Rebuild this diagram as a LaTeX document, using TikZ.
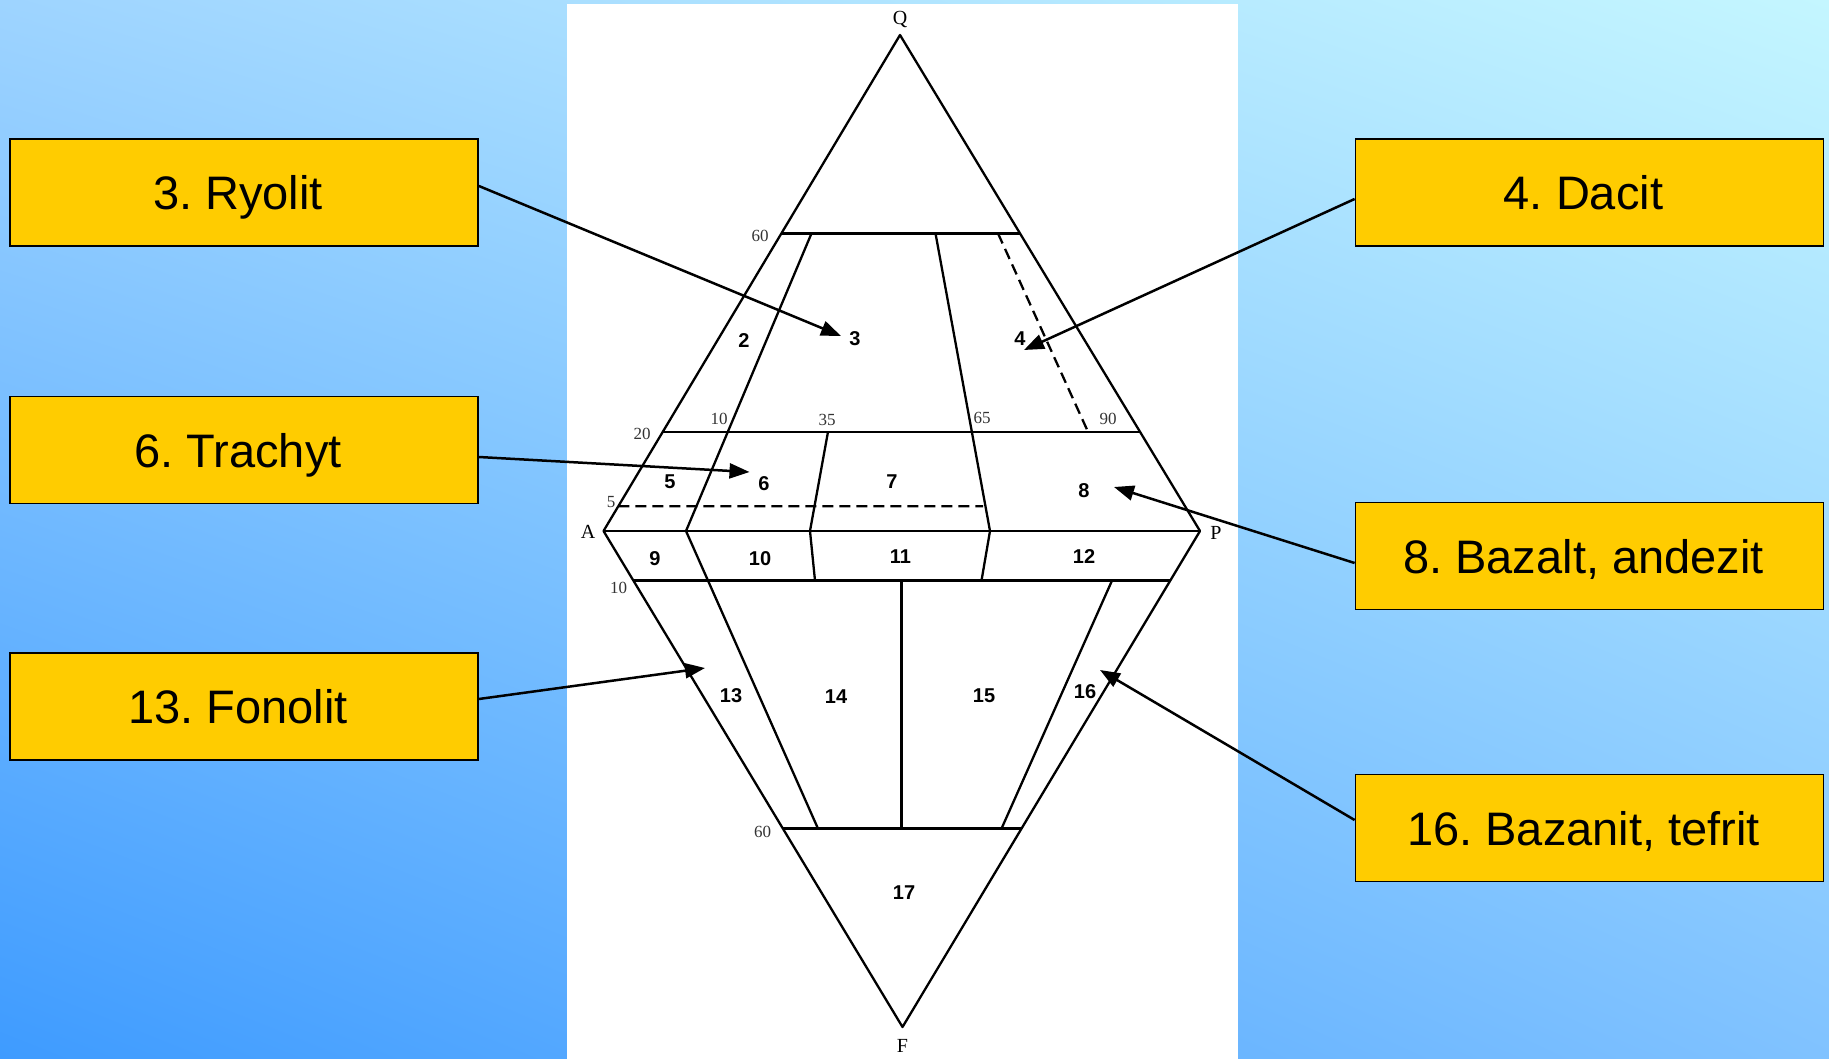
\documentclass[tikz,border=0pt]{standalone}
\usepackage{fontspec}
\setmainfont{Liberation Sans}
\newfontfamily\serifnum{Liberation Serif}
\usetikzlibrary{arrows.meta,calc,shadings}
\definecolor{boxgold}{RGB}{255,204,0}
\definecolor{bgUL}{RGB}{158,212,255}
\definecolor{bgUR}{RGB}{196,246,255}
\definecolor{bgLL}{RGB}{62,155,255}
\definecolor{bgLR}{RGB}{128,194,255}
\frenchspacing
\newcommand{\boxtxtshift}{\hspace*{-12pt}}
\begin{document}
\begin{tikzpicture}[x=1pt,y=-1pt,
  labelbox/.style={draw=black, line width=1.8pt, fill=boxgold, minimum width=468pt, minimum height=107pt, inner sep=0pt, text height=34pt, text depth=0pt, font=\fontsize{47}{56}\selectfont},
  edge/.style={line width=2.3pt, line join=round},
  dashline/.style={line width=2.3pt, dash pattern=on 11pt off 6pt},
  region/.style={font=\fontsize{20}{23}\selectfont\bfseries, inner sep=0pt},
  scalelbl/.style={font=\serifnum\fontsize{17}{20}\selectfont, text=black!80, inner sep=0pt},
  vertexlbl/.style={font=\serifnum\fontsize{20}{24}\selectfont, inner sep=0pt},
  pointer/.style={line width=2.5pt, -{Triangle[length=20pt,width=15pt]}}
]
\useasboundingbox (0,0) rectangle (1829,1059);
\begin{scope}[y=1pt]
  \shade[upper left=bgUL, upper right=bgUR, lower left=bgLL, lower right=bgLR] (0,-1059) rectangle (1829,0);
\end{scope}
\fill[white] (567,4) rectangle (1238,1059);

% vertices
\coordinate (Q) at (900,35);
\coordinate (A) at (603.5,531);
\coordinate (P) at (1200,531);
\coordinate (F) at (902.5,1027);
\coordinate (q60a) at ($(Q)!0.4!(A)$);
\coordinate (q60p) at ($(Q)!0.4!(P)$);
\coordinate (q20a) at ($(Q)!0.8!(A)$);
\coordinate (q20p) at ($(Q)!0.8!(P)$);
\coordinate (q5a) at ($(Q)!0.95!(A)$);
\coordinate (q5e) at (983,506.2);
\coordinate (f10a) at ($(A)!0.1!(F)$);
\coordinate (f10p) at ($(P)!0.1!(F)$);
\coordinate (f60a) at ($(A)!0.6!(F)$);
\coordinate (f60p) at ($(P)!0.6!(F)$);
% inner lines
\coordinate (i10t) at (811.5,233.4);
\coordinate (i10b) at (686,531);
\coordinate (i65t) at (935.5,233.4);
\coordinate (i65b) at (990,531);
\coordinate (i65l) at (981.5,580.6);
\coordinate (d90t) at (998,233.4);
\coordinate (d90b) at (1088,431.8);
\coordinate (i35t) at (828,431.8);
\coordinate (i35m) at (810,531);
\coordinate (i35b) at (815,580.6);
\coordinate (l1b) at (818,828.6);
\coordinate (vt) at (901.5,580.6);
\coordinate (vb) at (901.5,828.6);
\coordinate (r1t) at (1112,580.6);
\coordinate (r1b) at (1001.5,828.6);

\draw[edge] (Q) -- (A) -- (F) -- (P) -- cycle;
\draw[edge] (A) -- (P);
\draw[edge] (q60a) -- (q60p);
\draw[edge] (q20a) -- (q20p);
\draw[edge] (f10a) -- (f10p);
\draw[edge] (f60a) -- (f60p);
\draw[edge] (i10t) -- (i10b) -- (l1b);
\draw[edge] (i65t) -- (i65b) -- (i65l);
\draw[edge] (i35t) -- (i35m) -- (i35b);
\draw[edge] (vt) -- (vb);
\draw[edge] (r1t) -- (r1b);
\draw[dashline] (d90t) -- (d90b);
\draw[dashline] (q5a) -- (q5e);

% vertex labels
\node[vertexlbl] (lQ) at (900,20) {Q};
\node[vertexlbl] (lA) at (588,532) {A};
\node[vertexlbl] (lP) at (1216,533) {P};
\node[vertexlbl] (lF) at (902.5,1046) {F};
% scale labels
\node[scalelbl] (s60t) at (760,236) {60};
\node[scalelbl] (s20) at (642,434) {20};
\node[scalelbl] (s5) at (611,502) {5};
\node[scalelbl] (s10t) at (719,419) {10};
\node[scalelbl] (s35) at (827,420) {35};
\node[scalelbl] (s65) at (982,418) {65};
\node[scalelbl] (s90) at (1108,419) {90};
\node[scalelbl] (s10b) at (618.5,588) {10};
\node[scalelbl] (s60b) at (762.5,832) {60};
% region labels
\node[region] (r2) at (744,341) {2};
\node[region] (r3) at (855,339) {3};
\node[region] (r4) at (1020,339) {4};
\node[region] (r5) at (670,482) {5};
\node[region] (r6) at (764,484) {6};
\node[region] (r7) at (892,482) {7};
\node[region] (r8) at (1084,491) {8};
\node[region] (r9) at (655,559) {9};
\node[region] (r10) at (760,559) {10};
\node[region] (r11) at (900.5,557) {11};
\node[region] (r12) at (1084,557) {12};
\node[region] (r13) at (731,696) {13};
\node[region] (r14) at (836,697) {14};
\node[region] (r15) at (984,696) {15};
\node[region] (r16) at (1085,692) {16};
\node[region] (r17) at (904,893) {17};

% boxes
\node[labelbox] (ryolit) at (244,192.5) {\boxtxtshift 3. Ryolit};
\node[labelbox] (trachyt) at (244,450) {\boxtxtshift 6. Trachyt};
\node[labelbox] (fonolit) at (244,706.5) {\boxtxtshift 13. Fonolit};
\node[labelbox] (dacit) at (1589.5,192.5) {\boxtxtshift 4. Dacit};
\node[labelbox] (bazalt) at (1589.5,556) {\boxtxtshift 8. Bazalt, andezit};
\node[labelbox] (bazanit) at (1589.5,828) {\boxtxtshift 16. Bazanit, tefrit};

% arrow tips
\coordinate (t3) at (841,336);
\coordinate (t6) at (749.5,472);
\coordinate (t4) at (1024,350);
\coordinate (t8) at (1114,487);
\coordinate (t13) at (705,668);
\coordinate (t16) at (1100,670);

\draw[pointer] ([yshift=6.5pt]ryolit.east) -- (t3);
\draw[pointer] ([yshift=-7pt]trachyt.east) -- (t6);
\draw[pointer] ([yshift=7.5pt]fonolit.east) -- (t13);
\draw[pointer] ([yshift=-6.5pt]dacit.west) -- (t4);
\draw[pointer] ([yshift=-7pt]bazalt.west) -- (t8);
\draw[pointer] ([yshift=8pt]bazanit.west) -- (t16);
\end{tikzpicture}
\end{document}
